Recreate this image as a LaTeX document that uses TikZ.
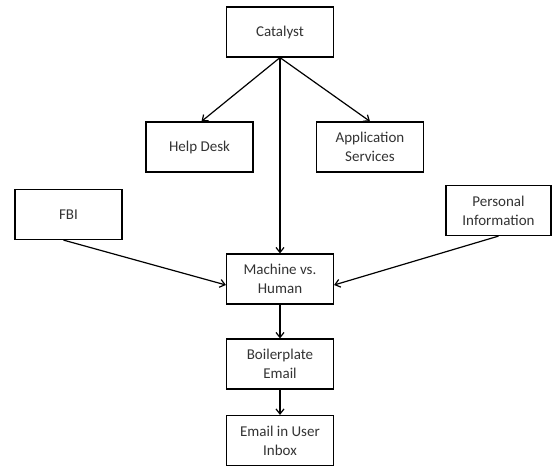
\documentclass[tikz,border=0pt]{standalone}
\usepackage{fontspec}
\setmainfont{Carlito}
\usetikzlibrary{arrows.meta}
\begin{document}
\begin{tikzpicture}[x=1pt,y=-1pt,>={Straight Barb[length=5pt,width=8pt]},line width=1.2pt,font=\fontsize{15}{19}\selectfont,
  box/.style={draw,fill=white,text=black!80,align=center,minimum width=107pt,minimum height=50pt,inner sep=2pt}]
  \useasboundingbox (0,0) rectangle (552,466);

  % boxes
  \node[box] (cat) at (280,32) {Catalyst};
  \node[box] (help) at (199.5,147) {Help Desk};
  \node[box] (app) at (370,147) {Application\\Services};
  \node[box] (fbi) at (68.5,214.5) {FBI};
  \node[box,minimum width=105pt] (pers) at (498.5,210.5) {Personal\\Information};
  \node[box] (mach) at (280,279) {Machine vs.\\Human};
  \node[box] (boil) at (280,364) {Boilerplate\\Email};
  \node[box] (inbox) at (280,440.5) {Email in User\\Inbox};

  % arrows
  \draw[->] (cat.south) -- ([xshift=2pt]help.north);
  \draw[->] (cat.south) -- (app.north);
  \draw[->] (cat.south) -- (mach.north);
  \draw[->] ([xshift=-5pt]fbi.south) -- ([yshift=-6pt]mach.west);
  \draw[->] (pers.south) -- ([yshift=-6pt]mach.east);
  \draw[->] (mach.south) -- (boil.north);
  \draw[->] (boil.south) -- (inbox.north);
\end{tikzpicture}
\end{document}
